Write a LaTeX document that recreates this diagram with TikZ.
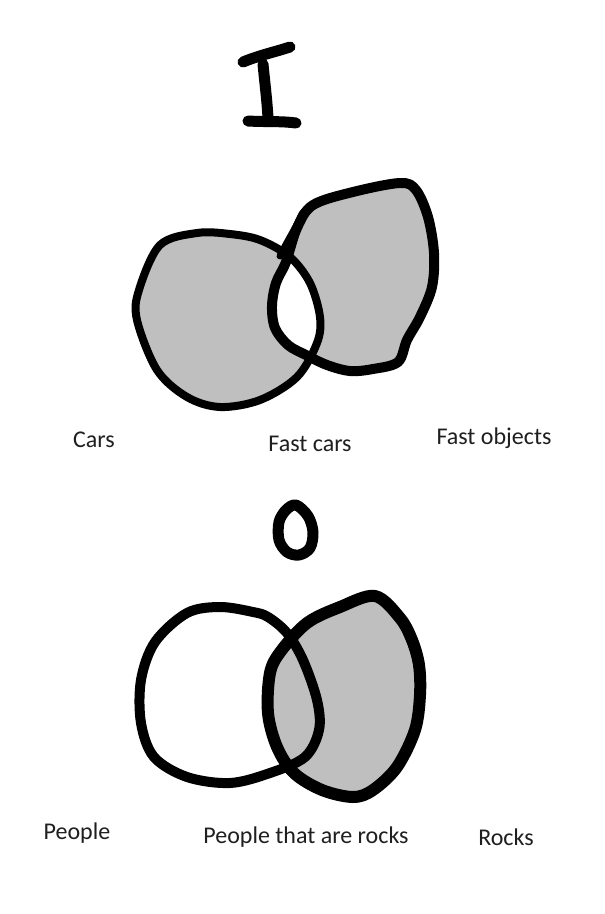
\documentclass[tikz,border=0pt]{standalone}
\usepackage{fontspec}
\setmainfont{Carlito}
\begin{document}
\begin{tikzpicture}[x=1pt,y=-1pt,line join=round,line cap=round,
  ink/.style={draw=black},
  lbl/.style={font=\fontsize{24}{28}\selectfont,text=black!88,inner sep=0pt}]
\useasboundingbox (0,0) rectangle (605,914);
\fill[white] (0,0) rectangle (605,914);
% ---- letter I
\draw[ink,line width=11pt] (243,62) .. controls (260,55) and (275,52) .. (290,47);
\draw[ink,line width=11pt] (263,64) .. controls (265,85) and (267,100) .. (268,118);
\draw[ink,line width=11pt] (248,121) .. controls (265,122) and (282,121) .. (296,123);
% ---- top Venn
\def\carsA{(197,233) (230,234) (260,240) (290,257) (310,283) (320,317) (317,343) (297,377) (260,400) (220,407) (187,397) (157,370) (137,320) (139,290) (160,245)}
\def\fastB{(286,262) (297,228) (313,205) (353,192) (400,183) (416,190) (428,217) (434,253) (432,287) (420,317) (407,340) (398,362) (373,369) (350,371) (327,365) (306,355) (288,345) (275,328) (272,306) (276,283)}
\fill[even odd rule,fill=black!25]
  plot[smooth cycle,tension=0.55] coordinates {\carsA}
  plot[smooth cycle,tension=0.55] coordinates {\fastB};
\draw[ink,line width=8pt] plot[smooth cycle,tension=0.55] coordinates {\carsA};
\draw[ink,line width=10pt] plot[smooth cycle,tension=0.55] coordinates {\fastB};
\draw[ink,line width=7pt] (280,256) .. controls (288,240) and (296,228) .. (302,214) .. controls (306,208) and (312,206) .. (318,204);
% ---- letter O
\draw[ink,line width=11pt] plot[smooth cycle,tension=0.55] coordinates {(296,505) (308,516) (313,532) (310,548) (299,555) (287,552) (279,540) (279,522) (286,510)};
% ---- bottom Venn
\def\rocksB{(375,596) (400,618) (412,640) (419,665) (420,695) (415,730) (397,767) (373,790) (353,797) (322,790) (294,773) (277,747) (268,713) (270,673) (281,651) (307,623) (340,607)}
\def\peopleA{(253,612) (220,607) (187,613) (155,642) (141,680) (141,723) (154,757) (187,777) (230,783) (270,773) (305,757) (319,730) (317,700) (303,660) (287,633) (268,617)}
\fill[black!25] plot[smooth cycle,tension=0.55] coordinates {\rocksB};
\draw[ink,line width=12pt] plot[smooth cycle,tension=0.55] coordinates {\rocksB};
\draw[ink,line width=10pt] plot[smooth cycle,tension=0.55] coordinates {\peopleA};
% ---- labels
\node[lbl] (cars) at (94,440) {Cars};
\node[lbl] (fastcars) at (310,444) {Fast cars};
\node[lbl] (fastobj) at (494,438) {Fast objects};
\node[lbl] (people) at (77,833) {People};
\node[lbl] (peoplerocks) at (306,837) {People that are rocks};
\node[lbl] (rocks) at (506,837) {Rocks};
\end{tikzpicture}
\end{document}
